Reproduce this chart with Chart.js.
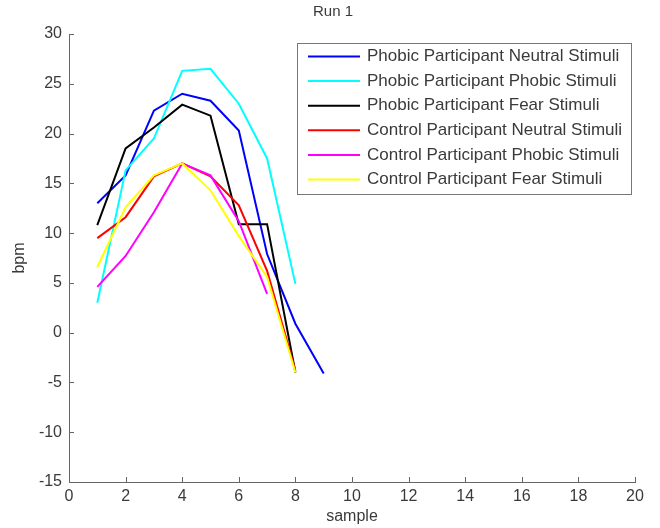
<!DOCTYPE html>
<html>
<head>
<meta charset="utf-8">
<script src="https://cdn.jsdelivr.net/npm/chart.js@4.4.1/dist/chart.umd.min.js"></script>
<style>
  html, body { margin: 0; padding: 0; background: #fff; }
  #wrap { width: 660px; height: 528px; }
</style>
</head>
<body>
<div id="wrap"><canvas id="c"></canvas></div>
<script>
// values (bpm per sample)
const samples = [1, 2, 3, 4, 5, 6, 7, 8, 9]
const seriesNames = [
  'Phobic Participant Neutral Stimuli',
  'Phobic Participant Phobic Stimuli',
  'Phobic Participant Fear Stimuli',
  'Control Participant Neutral Stimuli',
  'Control Participant Phobic Stimuli',
  'Control Participant Fear Stimuli'
]
const phobicNeutral = [13.0, 15.8, 22.3, 24.0, 23.3, 20.3, 7.9, 0.9, -4.1]
const phobicPhobic = [3.0, 16.3, 19.5, 26.3, 26.5, 23.0, 17.5, 4.9]
const phobicFear = [10.8, 18.5, 20.6, 22.9, 21.8, 10.9, 10.9, -4.0]
const controlNeutral = [9.5, 11.6, 15.7, 17.0, 15.7, 12.8, 6.2, -3.8]
const controlPhobic = [4.6, 7.7, 12.1, 17.0, 15.8, 11.2, 3.9]
const controlFear = [6.6, 12.6, 15.8, 17.0, 14.3, 9.7, 5.6, -4.0]
const xTicks = [0, 2, 4, 6, 8, 10, 12, 14, 16, 18, 20]
const yTicks = [-15, -10, -5, 0, 5, 10, 15, 20, 25, 30]
const chartTitle = 'Run 1'

const allSeries = [phobicNeutral, phobicPhobic, phobicFear, controlNeutral, controlPhobic, controlFear]
const lineColors = ['#0000ff', '#00ffff', '#000000', '#ff0000', '#ff00ff', '#ffff00']
const textColor = '#3a3a3a'
const axisColor = '#666'
const fontFamily = '"Liberation Sans", Arial, sans-serif'

// matlab-style ticks pointing into the plot, plus the title
const innerTicks = {
  id: 'innerTicks',
  afterDraw(chart) {
    const { ctx, chartArea: a, scales: { x, y } } = chart
    ctx.save()
    ctx.strokeStyle = axisColor
    ctx.lineWidth = 1
    ctx.beginPath()
    yTicks.forEach(v => {
      const py = Math.round(y.getPixelForValue(v)) + 0.5
      ctx.moveTo(a.left, py)
      ctx.lineTo(a.left + 5, py)
    })
    xTicks.forEach(v => {
      const px = Math.round(x.getPixelForValue(v)) + 0.5
      ctx.moveTo(px, a.bottom)
      ctx.lineTo(px, a.bottom - 5)
    })
    ctx.stroke()
    ctx.fillStyle = textColor
    ctx.font = '15px ' + fontFamily
    ctx.textAlign = 'center'
    ctx.textBaseline = 'middle'
    ctx.fillText(chartTitle, 333, 12)
    ctx.restore()
  }
}

// boxed legend in the upper right of the axes
const boxLegend = {
  id: 'boxLegend',
  afterDraw(chart) {
    const ctx = chart.ctx
    const left = 297.5, top = 43.5, w = 334, h = 151
    ctx.save()
    ctx.fillStyle = '#fff'
    ctx.fillRect(left, top, w, h)
    ctx.strokeStyle = '#777'
    ctx.lineWidth = 1
    ctx.strokeRect(left, top, w, h)
    ctx.font = '17px ' + fontFamily
    ctx.textBaseline = 'middle'
    chart.data.datasets.forEach((ds, i) => {
      const yy = 56.5 + i * 24.6
      ctx.strokeStyle = ds.borderColor
      ctx.lineWidth = 2
      ctx.beginPath()
      ctx.moveTo(308, yy)
      ctx.lineTo(360, yy)
      ctx.stroke()
      ctx.fillStyle = textColor
      ctx.fillText(ds.label, 367, yy)
    })
    ctx.restore()
  }
}

new Chart(document.getElementById('c'), {
  type: 'line',
  data: {
    datasets: allSeries.map((vals, i) => ({
      label: seriesNames[i],
      data: vals.map((v, j) => ({ x: samples[j], y: v })),
      borderColor: lineColors[i],
      backgroundColor: lineColors[i],
      borderWidth: 2,
      pointRadius: 0,
      tension: 0,
      fill: false,
      order: allSeries.length - i
    }))
  },
  options: {
    responsive: true,
    maintainAspectRatio: false,
    animation: false,
    layout: { padding: { left: 0, right: 25, top: 34, bottom: 0 } },
    plugins: {
      legend: { display: false },
      tooltip: { enabled: false },
      title: { display: false }
    },
    scales: {
      x: {
        type: 'linear',
        min: 0,
        max: 20,
        afterBuildTicks: s => { s.ticks = xTicks.map(v => ({ value: v })) },
        afterFit: s => { s.height = 46 },
        grid: { display: true, drawOnChartArea: false, drawTicks: false },
        border: { display: true, color: axisColor, width: 1 },
        ticks: { color: textColor, padding: 5, maxRotation: 0, font: { family: fontFamily, size: 16 } },
        title: { display: true, text: 'sample', color: textColor, padding: { top: 0, bottom: 2 }, font: { family: fontFamily, size: 16 } }
      },
      y: {
        type: 'linear',
        min: -15,
        max: 30,
        afterBuildTicks: s => { s.ticks = yTicks.map(v => ({ value: v })) },
        afterFit: s => { s.width = 69 },
        grid: { display: true, drawOnChartArea: false, drawTicks: false },
        border: { display: true, color: axisColor, width: 1 },
        ticks: { color: textColor, padding: 7, font: { family: fontFamily, size: 16 } },
        title: { display: true, text: 'bpm', color: textColor, padding: { top: 10, bottom: 0 }, font: { family: fontFamily, size: 16 } }
      }
    }
  },
  plugins: [innerTicks, boxLegend]
})
</script>
</body>
</html>
